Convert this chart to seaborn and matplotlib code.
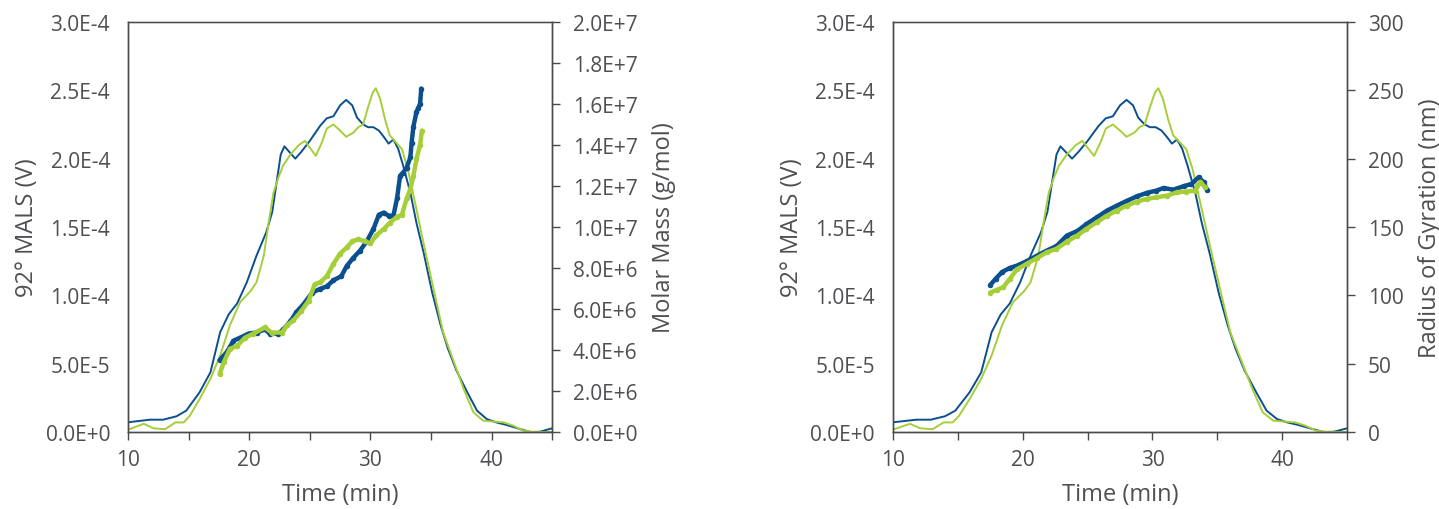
import seaborn as sns
import matplotlib.pyplot as plt
from matplotlib.ticker import MultipleLocator, FuncFormatter

# 92° MALS traces (V), time in min
t_mals_blue = [10, 11.8, 12.9, 14.0, 14.8, 15.9, 16.8, 17.6, 18.3, 19.0, 19.8, 20.6, 21.4, 21.9,
               22.3, 22.6, 22.9, 23.2, 23.8, 24.3, 25.0, 25.85, 26.4, 26.95, 27.5, 28.0, 28.5,
               28.9, 29.4, 29.8, 30.25, 30.7, 31.1, 31.5, 31.9, 32.3, 32.7, 33.3, 33.8, 34.4,
               35.1, 35.8, 36.4, 37.1, 38.0, 38.8, 39.6, 40.4, 41.3, 42.4, 43.2, 44.0, 45.0]
mals_blue = [0.71, 0.9, 0.9, 1.15, 1.56, 2.9, 4.37, 7.3, 8.6, 9.4, 10.95, 12.9, 14.6, 16.1,
             18.5, 20.3, 20.9, 20.6, 20.0, 20.5, 21.3, 22.4, 22.95, 23.1, 23.9, 24.3, 23.9,
             23.0, 22.5, 22.3, 22.3, 22.05, 21.6, 21.1, 21.4, 20.7, 19.5, 17.5, 15.3, 13.1,
             10.2, 7.8, 6.1, 4.5, 2.9, 1.56, 0.95, 0.7, 0.5, 0.2, 0.0, 0.02, 0.27]
t_mals_green = [10, 11.3, 12.1, 13.05, 13.9, 14.6, 15.1, 15.9, 16.8, 17.6, 18.4, 19.25, 20.1,
                20.6, 21.2, 21.6, 22.0, 22.4, 22.8, 23.4, 24.1, 24.6, 25.0, 25.5, 26.0, 26.4,
                26.95, 27.5, 28.0, 28.6, 29.0, 29.4, 29.8, 30.2, 30.45, 30.8, 31.2, 31.6, 32.0,
                32.6, 33.1, 33.8, 34.4, 35.2, 36.0, 36.9, 37.7, 38.5, 39.3, 40.2, 41.0, 41.8,
                42.6, 43.5, 45.0]
mals_green = [0.17, 0.6, 0.27, 0.2, 0.7, 0.7, 1.2, 2.4, 3.9, 5.6, 7.8, 9.5, 10.3,
              10.95, 12.9, 15.3, 17.5, 18.6, 19.5, 20.3, 21.0, 21.3, 20.8, 20.2, 21.2, 22.2,
              22.5, 22.05, 21.6, 21.9, 22.3, 22.5, 23.75, 24.85, 25.15, 24.4, 22.9, 21.7, 21.3,
              20.7, 19.2, 16.3, 13.75, 10.5, 7.3, 5.1, 3.15, 1.44, 0.83, 0.76, 0.7, 0.46,
              0.1, 0.0, 0.0]
mals_scale = 1e-5

# Molar mass (g/mol, x1e6)
t_mm_blue = [17.55, 18.15, 18.7, 19.25, 19.95, 20.6, 21.3, 21.7, 22.4, 22.8, 23.4, 23.9, 24.5,
             25.2, 25.85, 26.4, 26.95, 27.6, 28.05, 28.6, 29.15, 29.7, 30.25, 30.7, 31.1, 31.5,
             31.9, 32.2, 32.45, 32.7, 33.0, 33.3, 33.4, 33.55, 33.8, 33.95, 34.1, 34.2]
mm_blue = [3.5, 3.9, 4.45, 4.6, 4.8, 4.85, 5.0, 4.8, 4.8, 5.0, 5.4, 5.85, 6.25,
           6.8, 6.98, 7.1, 7.4, 7.6, 8.1, 8.5, 8.85, 9.3, 9.9, 10.6, 10.7, 10.55,
           10.55, 11.4, 12.5, 12.65, 12.9, 13.4, 14.1, 14.9, 15.6, 15.8, 16.0, 16.75]
t_mm_green = [17.55, 17.9, 18.4, 19.0, 19.65, 20.35, 21.3, 21.85, 22.7, 23.1, 23.65, 24.3, 24.9,
              25.4, 25.85, 26.4, 26.95, 27.5, 28.05, 28.5, 29.0, 29.55, 30.0, 30.5, 31.1, 31.6,
              32.2, 32.6, 33.0, 33.3, 33.55, 33.8, 34.1, 34.25]
mm_green = [2.83, 3.4, 4.05, 4.2, 4.6, 4.8, 5.1, 4.85, 4.85, 5.2, 5.45, 5.9, 6.4,
            7.2, 7.3, 7.6, 8.2, 8.7, 9.0, 9.3, 9.4, 9.3, 9.2, 9.6, 9.9, 10.2,
            10.5, 10.6, 11.4, 11.85, 12.5, 13.3, 14.0, 14.7]
mm_scale = 1e6

# Radius of gyration (nm)
t_rg_blue = [17.5, 17.9, 18.4, 19.0, 19.55, 20.3, 21.1, 21.85, 22.6, 23.4, 24.2, 24.9, 25.7,
             26.5, 27.25, 28.0, 28.8, 29.55, 30.3, 30.85, 31.6, 32.4, 33.0, 33.55, 33.95, 34.2]
rg_blue = [107.6, 112, 117, 120, 121.7, 125, 129, 132.7, 136, 143.7, 147, 152, 157,
           162, 165.6, 169, 172.4, 174.9, 176.6, 178.5, 177.3, 179.8, 181.5, 186.3, 182.7, 177.3]
t_rg_green = [17.5, 18.0, 18.5, 19.0, 19.55, 20.3, 21.1, 21.85, 22.6, 23.4, 24.2, 24.9, 25.7,
              26.5, 27.25, 28.0, 28.8, 29.55, 30.3, 31.1, 31.9, 32.6, 33.3, 33.7, 34.05]
rg_green = [102, 104, 106, 112, 119, 123, 127.3, 131.5, 134, 139.3, 143.7, 148.5, 153.4,
            158.3, 162, 165.6, 168.5, 170.5, 171.7, 172.9, 175.4, 175.9, 176.6, 183, 179]

blue = '#0b4f8e'
green = '#a6ce39'
text_col = '#4d4f52'
spine_col = '#4a4a4a'

sns.set_style('white')
plt.rcParams['font.family'] = ['Open Sans', 'DejaVu Sans']
plt.rcParams['text.color'] = text_col
plt.rcParams['axes.labelcolor'] = text_col
plt.rcParams['xtick.color'] = spine_col
plt.rcParams['ytick.color'] = spine_col
plt.rcParams['xtick.labelcolor'] = text_col
plt.rcParams['ytick.labelcolor'] = text_col

fig = plt.figure(figsize=(14.39, 5.10), dpi=100)


def sci(v, _):
    if v == 0:
        return '0.0E+0'
    s = f'{v:.1E}'
    mant, exp = s.split('E')
    return f'{mant}E{int(exp):+d}'


def setup(ax, ax2, right_label, right_max, right_step, right_fmt):
    ax.set_xlim(10, 45)
    ax.set_ylim(0, 3e-4)
    ax.xaxis.set_major_locator(MultipleLocator(10))
    ax.xaxis.set_minor_locator(MultipleLocator(5))
    ax.yaxis.set_major_locator(MultipleLocator(5e-5))
    ax.yaxis.set_major_formatter(FuncFormatter(sci))
    ax.tick_params(axis='x', which='both', direction='out', length=6, width=1,
                   labelsize=15, pad=6, bottom=True)
    ax.tick_params(axis='y', length=0, labelsize=15, pad=13)
    ax.set_xlabel('Time (min)', fontsize=17, labelpad=9)
    ax.set_ylabel('92° MALS (V)', fontsize=17, labelpad=5)
    ax2.set_ylim(0, right_max)
    ax2.yaxis.set_major_locator(MultipleLocator(right_step))
    ax2.yaxis.set_major_formatter(right_fmt)
    ax2.tick_params(axis='y', direction='out', length=6, width=1, labelsize=15, pad=9, right=True)
    ax2.set_ylabel(right_label, fontsize=17, labelpad=10)
    for a in (ax, ax2):
        for sp in a.spines.values():
            sp.set_color(spine_col)
            sp.set_linewidth(1)
            sp.set_visible(True)
    ax.spines['top'].set_color('#8a8a8a')


def mals(ax):
    sns.lineplot(x=t_mals_blue, y=[v * mals_scale for v in mals_blue], ax=ax, color=blue,
                 lw=1.4, sort=False, estimator=None)
    sns.lineplot(x=t_mals_green, y=[v * mals_scale for v in mals_green], ax=ax, color=green,
                 lw=1.4, sort=False, estimator=None)


def dots(ax, tb, yb, tg, yg):
    for t, y, c in ((tb, yb, blue), (tg, yg, green)):
        sns.lineplot(x=t, y=y, ax=ax, color=c, lw=3.2, sort=False, estimator=None,
                     marker='o', markersize=4, markeredgewidth=0)


# left panel: MALS + molar mass
ax1 = fig.add_axes([0.0890, 0.151, 0.2947, 0.804])
ax1b = ax1.twinx()
mals(ax1)
dots(ax1b, t_mm_blue, [v * mm_scale for v in mm_blue], t_mm_green, [v * mm_scale for v in mm_green])
setup(ax1, ax1b, 'Molar Mass (g/mol)', 2e7, 2e6, FuncFormatter(sci))

# right panel: MALS + radius of gyration
ax2 = fig.add_axes([0.6206, 0.151, 0.3155, 0.804])
ax2b = ax2.twinx()
mals(ax2)
dots(ax2b, t_rg_blue, rg_blue, t_rg_green, rg_green)
setup(ax2, ax2b, 'Radius of Gyration (nm)', 300, 50, FuncFormatter(lambda v, _: f'{v:.0f}'))

fig.savefig('out.png', dpi=100)
